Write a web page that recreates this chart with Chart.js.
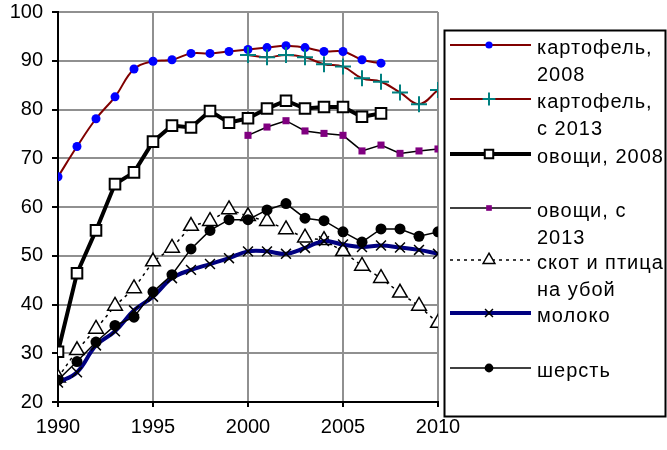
<!DOCTYPE html>
<html>
<head>
<meta charset="utf-8">
<script src="https://cdn.jsdelivr.net/npm/chart.js@4/dist/chart.umd.min.js"></script>
<style>
  body { margin: 0; background: #fff; }
  canvas { display: block; }
</style>
</head>
<body>
<canvas id="myChart" width="667" height="450"></canvas>
<script>
'use strict';

// years on the x axis
let years = [1990, 1991, 1992, 1993, 1994, 1995, 1996, 1997, 1998, 1999, 2000,
  2001, 2002, 2003, 2004, 2005, 2006, 2007, 2008, 2009, 2010];
let xTicks = [1990, 1995, 2000, 2005, 2010];
let yTicks = [20, 30, 40, 50, 60, 70, 80, 90, 100];

let seriesNames = ['картофель,\n2008', 'картофель,\nс 2013', 'овощи, 2008',
  'овощи, с\n2013', 'скот и птица\nна убой', 'молоко', 'шерсть'];

// null = no value that year
let potato2008 = [66.2, 72.4, 78.1, 82.6, 88.3, 89.9, 90.2, 91.5, 91.5, 91.9, 92.3,
  92.7, 93.1, 92.7, 91.9, 91.9, 90.2, 89.5, null, null, null];
let potato2013 = [null, null, null, null, null, null, null, null, null, null, 91.2,
  90.7, 91.2, 90.7, 89.3, 88.8, 86.4, 85.7, 83.5, 81.1, 84.0];
let veg2008 = [30.3, 46.4, 55.2, 64.7, 67.1, 73.4, 76.7, 76.3, 79.7, 77.3, 78.2,
  80.2, 81.8, 80.2, 80.5, 80.5, 78.5, 79.2, null, null, null];
let veg2013 = [null, null, null, null, null, null, null, null, null, null, 74.7,
  76.4, 77.7, 75.6, 75.1, 74.7, 71.5, 72.7, 71.0, 71.5, 71.9];
let livestock = [25.0, 30.6, 35.0, 39.7, 43.3, 48.8, 51.6, 56.1, 57.1, 59.5, 58.1,
  57.1, 55.4, 53.7, 53.2, 50.9, 47.9, 45.4, 42.4, 39.7, 36.2];
let milk = [24.0, 26.1, 31.6, 34.5, 38.8, 41.6, 45.4, 47.1, 48.3, 49.5, 50.9,
  50.9, 50.4, 51.6, 53.0, 52.3, 51.8, 52.1, 51.7, 51.2, 50.4];
let wool = [24.5, 28.3, 32.3, 35.7, 37.4, 42.6, 46.1, 51.4, 55.2, 57.4, 57.4,
  59.4, 60.7, 57.7, 57.2, 54.9, 52.8, 55.5, 55.5, 54.0, 54.9];

function toPoints(values) {
  let pts = [];
  for (let i = 0; i < years.length; i++) {
    if (values[i] !== null) pts.push({ x: years[i], y: values[i] });
  }
  return pts;
}

let styles = [
  { borderColor: '#800000', borderWidth: 2, tension: 0.4, pointStyle: 'circle', pointRadius: 4.5,
    pointBackgroundColor: '#0000ff', pointBorderColor: '#0000ff', pointBorderWidth: 0 },
  { borderColor: '#800000', borderWidth: 2, tension: 0.4, pointStyle: 'cross', pointRadius: 8,
    pointBackgroundColor: '#008080', pointBorderColor: '#008080', pointBorderWidth: 2 },
  { borderColor: '#000000', borderWidth: 4, tension: 0, pointStyle: 'rect', pointRadius: 7.5,
    pointBackgroundColor: '#ffffff', pointBorderColor: '#000000', pointBorderWidth: 2 },
  { borderColor: '#000000', borderWidth: 1.5, tension: 0, pointStyle: 'rect', pointRadius: 5,
    pointBackgroundColor: '#800080', pointBorderColor: '#800080', pointBorderWidth: 0 },
  { borderColor: '#000000', borderWidth: 1.5, borderDash: [3, 4], tension: 0, pointStyle: 'triangle', pointRadius: 8.5,
    pointBackgroundColor: '#ffffff', pointBorderColor: '#000000', pointBorderWidth: 1.5 },
  { borderColor: '#000080', borderWidth: 4, tension: 0.4, pointStyle: 'crossRot', pointRadius: 7,
    pointBackgroundColor: '#000000', pointBorderColor: '#000000', pointBorderWidth: 1.5 },
  { borderColor: '#000000', borderWidth: 1.5, tension: 0, pointStyle: 'circle', pointRadius: 5.5,
    pointBackgroundColor: '#000000', pointBorderColor: '#000000', pointBorderWidth: 0 }
];

let allSeries = [potato2008, potato2013, veg2008, veg2013, livestock, milk, wool];
let datasets = [];
for (let i = 0; i < allSeries.length; i++) {
  let ds = Object.assign({
    label: seriesNames[i],
    data: toPoints(allSeries[i]),
    fill: false,
    order: allSeries.length - i
  }, styles[i]);
  datasets.push(ds);
}

// legend drawn by hand: wrapped labels in a framed box on the right
let boxLegend = {
  id: 'boxLegend',
  afterDraw(chart) {
    let ctx = chart.ctx;
    ctx.save();
    ctx.strokeStyle = '#000';
    ctx.lineWidth = 2;
    ctx.strokeRect(444.5, 30.5, 221, 386);
    let rowY = [45, 99, 154, 208, 260, 313, 368];
    for (let i = 0; i < datasets.length; i++) {
      let ds = datasets[i];
      let y = rowY[i];
      ctx.save();
      ctx.strokeStyle = ds.borderColor;
      ctx.lineWidth = ds.borderWidth;
      ctx.setLineDash(ds.borderDash || []);
      ctx.beginPath();
      ctx.moveTo(450, y);
      ctx.lineTo(531, y);
      ctx.stroke();
      ctx.restore();
      ctx.save();
      ctx.fillStyle = ds.pointBackgroundColor;
      ctx.strokeStyle = ds.pointBorderColor;
      ctx.lineWidth = ds.pointBorderWidth;
      Chart.helpers.drawPoint(ctx, {
        pointStyle: ds.pointStyle,
        radius: ds.pointStyle === 'rect' && i === 2 ? 6 : ds.pointRadius * 0.8,
        rotation: 0,
        borderWidth: ds.pointBorderWidth
      }, 489, y);
      ctx.restore();

      ctx.fillStyle = '#000';
      ctx.font = '20px "Liberation Sans", Arial, sans-serif';
      ctx.letterSpacing = '1px';
      ctx.textBaseline = 'middle';
      ctx.textAlign = 'left';
      let lines = ds.label.split('\n');
      for (let j = 0; j < lines.length; j++) {
        ctx.fillText(lines[j], 537, y + 3 + j * 27);
      }
    }
    ctx.restore();
  }
};

let ctx = document.getElementById('myChart');
let myChart = new Chart(ctx, {
  type: 'line',
  data: { datasets: datasets },
  plugins: [boxLegend],
  options: {
    responsive: false,
    animation: false,
    layout: { padding: { left: 0, top: 12, right: 229, bottom: 0 } },
    plugins: {
      legend: { display: false },
      tooltip: { enabled: false }
    },
    scales: {
      x: {
        type: 'linear',
        min: 1990,
        max: 2010,
        afterBuildTicks: (axis) => { axis.ticks = xTicks.map(v => ({ value: v })); },
        afterFit: (axis) => { axis.height = 48; },
        grid: { color: '#909090', lineWidth: 2, tickColor: '#000', tickLength: 5, drawTicks: true },
        border: { color: '#000', width: 2 },
        ticks: {
          color: '#000',
          padding: 8,
          maxRotation: 0,
          font: { family: '"Liberation Sans", Arial, sans-serif', size: 20 },
          callback: (v) => String(v)
        }
      },
      y: {
        min: 20,
        max: 100,
        afterBuildTicks: (axis) => { axis.ticks = yTicks.map(v => ({ value: v })); },
        afterFit: (axis) => {
          axis.width = 58;
          axis.paddingTop = 0;
          axis.paddingBottom = 0;
        },
        grid: { color: '#909090', lineWidth: 2, tickColor: '#000', tickLength: 6 },
        border: { color: '#000', width: 2 },
        ticks: {
          color: '#000',
          padding: 9,
          font: { family: '"Liberation Sans", Arial, sans-serif', size: 20 }
        }
      }
    }
  }
});
</script>
</body>
</html>
